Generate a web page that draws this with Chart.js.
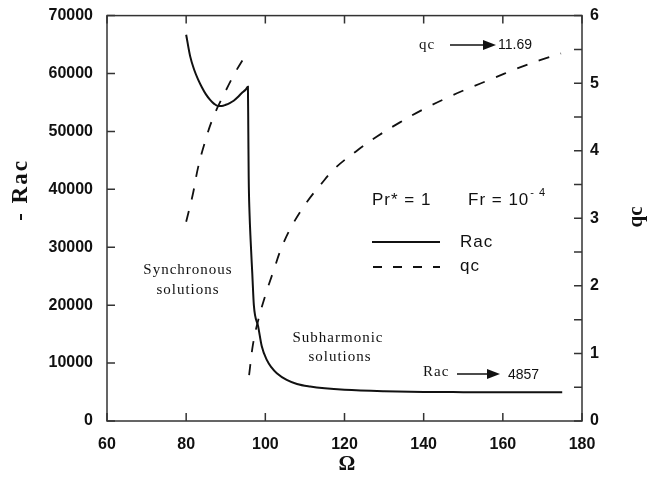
<!DOCTYPE html>
<html>
<head>
<meta charset="utf-8">
<script src="https://cdn.jsdelivr.net/npm/chart.js@4.4.1/dist/chart.umd.min.js"></script>
<style>
  html, body { margin: 0; padding: 0; background: #fff; }
  #wrap { width: 650px; height: 479px; }
</style>
</head>
<body>
<div id="wrap"><canvas id="myChart" width="650" height="479"></canvas></div>
<script>
// critical Rayleigh number (solid, left axis)
const racOmega = [80, 81, 82, 83, 84, 85, 86, 87, 88, 89, 90, 91, 92, 93, 94, 95, 95.6,
  95.7, 95.8, 96, 96.3, 96.7, 97.1, 98.2, 99.1, 100.4, 101.5, 102.9, 105.4, 108, 111.3,
  115, 120, 130, 140, 150, 160, 170, 175];
const racValues = [66700, 63000, 60700, 59000, 57600, 56400, 55500, 54800, 54400, 54400,
  54600, 54900, 55300, 55900, 56600, 57200, 57700,
  50000, 42000, 36000, 31000, 25500, 20000, 16300, 12900, 10500, 9300, 8260, 7100, 6400, 5960,
  5650, 5400, 5150, 5020, 4980, 4960, 4950, 4950];

// critical wavenumber (dashed, right axis) - synchronous branch
const qcOmega1 = [80, 81.7, 83, 84.7, 86.8, 89.6, 92.5, 95.4];
const qcValues1 = [2.95, 3.36, 3.75, 4.12, 4.49, 4.84, 5.17, 5.45];

// subharmonic branch
const qcOmega2 = [95.9, 96.9, 98.2, 100, 102, 104.2, 107, 110.5, 114, 117.6, 122.9, 128.2,
  134, 139.8, 145.4, 151.2, 157.5, 163.3, 169.4, 174.7];
const qcValues2 = [0.68, 1.14, 1.49, 1.86, 2.21, 2.58, 2.92, 3.24, 3.5, 3.74, 3.99, 4.21,
  4.42, 4.61, 4.77, 4.92, 5.07, 5.21, 5.34, 5.44];

const xTicks = [60, 80, 100, 120, 140, 160, 180];
const racTicks = [0, 10000, 20000, 30000, 40000, 50000, 60000, 70000];
const qcTicks = [0, 1, 2, 3, 4, 5, 6];
const qcMinorTicks = [0.5, 1.5, 2.5, 3.5, 4.5, 5.5];

const ink = '#111';
const tickFont = { family: 'Liberation Sans', size: 16, weight: 'bold' };

function pairs(xs, ys) {
  return xs.map((v, i) => ({ x: v, y: ys[i] }));
}

function arrow(ctx, x0, x1, y) {
  ctx.beginPath();
  ctx.moveTo(x0, y);
  ctx.lineTo(x1 - 12, y);
  ctx.lineWidth = 1.5;
  ctx.stroke();
  ctx.beginPath();
  ctx.moveTo(x1 - 13, y - 5);
  ctx.lineTo(x1, y);
  ctx.lineTo(x1 - 13, y + 5);
  ctx.closePath();
  ctx.fill();
}

const decorPlugin = {
  id: 'decor',
  afterDraw(chart) {
    const { ctx, chartArea: a, scales } = chart;
    const sx = scales.x, sy = scales.y, sq = scales.y1;
    ctx.save();
    ctx.strokeStyle = '#333';
    ctx.fillStyle = ink;
    ctx.lineWidth = 1.5;
    ctx.strokeRect(a.left, a.top, a.right - a.left, a.bottom - a.top);

    // inward tick marks
    ctx.beginPath();
    xTicks.forEach(v => {
      const px = sx.getPixelForValue(v);
      ctx.moveTo(px, a.bottom); ctx.lineTo(px, a.bottom - 8);
      ctx.moveTo(px, a.top); ctx.lineTo(px, a.top + 8);
    });
    racTicks.forEach(v => {
      const py = sy.getPixelForValue(v);
      ctx.moveTo(a.left, py); ctx.lineTo(a.left + 8, py);
    });
    qcTicks.concat(qcMinorTicks).forEach(v => {
      const py = sq.getPixelForValue(v);
      ctx.moveTo(a.right, py); ctx.lineTo(a.right - 8, py);
    });
    ctx.stroke();

    // axis titles
    ctx.textAlign = 'center';
    ctx.textBaseline = 'middle';
    ctx.font = 'bold 23px "Liberation Serif"';
    ctx.letterSpacing = '2px';
    ctx.save();
    ctx.translate(21, 190);
    ctx.rotate(-Math.PI / 2);
    ctx.fillText('- Rac', 0, 0);
    ctx.restore();
    ctx.letterSpacing = '0px';
    ctx.font = 'bold 21px "Liberation Serif"';
    ctx.save();
    ctx.translate(637, 217);
    ctx.rotate(-Math.PI / 2);
    ctx.fillText('qc', 0, 0);
    ctx.restore();
    ctx.font = 'bold 21px "Liberation Serif"';
    ctx.fillText('\u03A9', 347, 465);

    // region labels
    ctx.font = '15px "Liberation Serif"';
    ctx.letterSpacing = '1px';
    ctx.fillText('Synchronous', 188, 270);
    ctx.fillText('solutions', 188, 290);
    ctx.fillText('Subharmonic', 338, 338);
    ctx.fillText('solutions', 340, 357);

    // asymptote annotations
    ctx.textAlign = 'left';
    ctx.fillText('qc', 419, 45);
    ctx.fillText('Rac', 423, 372);
    ctx.letterSpacing = '0px';
    ctx.strokeStyle = ink;
    arrow(ctx, 450, 496, 45);
    arrow(ctx, 457, 500, 374);
    ctx.font = '14px "Liberation Sans"';
    ctx.fillText('11.69', 498, 45);
    ctx.fillText('4857', 508, 375);

    // parameters and legend
    ctx.font = '17px "Liberation Sans"';
    ctx.letterSpacing = '1px';
    ctx.fillText('Pr* = 1', 372, 200);
    ctx.fillText('Fr = 10', 468, 200);
    const w = ctx.measureText('Fr = 10').width;
    ctx.font = '11px "Liberation Sans"';
    ctx.fillText('- 4', 468 + w + 1, 193);
    ctx.font = '17px "Liberation Sans"';
    ctx.fillText('Rac', 460, 242);
    ctx.fillText('qc', 460, 266);
    ctx.lineWidth = 1.8;
    ctx.beginPath();
    ctx.moveTo(372, 242); ctx.lineTo(440, 242);
    ctx.stroke();
    ctx.setLineDash([9, 11]);
    ctx.beginPath();
    ctx.moveTo(373, 267); ctx.lineTo(440, 267);
    ctx.stroke();
    ctx.restore();
  }
};

const ctx = document.getElementById('myChart').getContext('2d');

const myChart = new Chart(ctx, {
  type: 'line',
  data: {
    datasets: [
      {
        label: 'Rac',
        data: pairs(racOmega, racValues),
        yAxisID: 'y',
        borderColor: ink,
        borderWidth: 2,
        pointRadius: 0,
        cubicInterpolationMode: 'monotone'
      },
      {
        label: 'qc',
        data: pairs(qcOmega1, qcValues1),
        yAxisID: 'y1',
        borderColor: ink,
        borderWidth: 1.8,
        borderDash: [11, 12],
        pointRadius: 0,
        tension: 0.4
      },
      {
        label: 'qc subharmonic',
        data: pairs(qcOmega2, qcValues2),
        yAxisID: 'y1',
        borderColor: ink,
        borderWidth: 1.8,
        borderDash: [11, 12],
        pointRadius: 0,
        tension: 0.4
      }
    ]
  },
  options: {
    responsive: false,
    animation: false,
    layout: { padding: { top: 14, left: 0, right: 0, bottom: 0 } },
    plugins: {
      legend: { display: false },
      tooltip: { enabled: false }
    },
    scales: {
      x: {
        type: 'linear',
        position: 'bottom',
        min: 60,
        max: 180,
        afterBuildTicks: s => { s.ticks = xTicks.map(v => ({ value: v })); },
        afterFit: s => { s.height = 58; },
        grid: { display: false },
        border: { display: false },
        ticks: { font: tickFont, color: ink, padding: 6, maxRotation: 0 }
      },
      y: {
        type: 'linear',
        position: 'left',
        min: 0,
        max: 70000,
        afterBuildTicks: s => { s.ticks = racTicks.map(v => ({ value: v })); },
        afterFit: s => { s.width = 107; },
        grid: { display: false },
        border: { display: false },
        ticks: { font: tickFont, color: ink, padding: 6, callback: v => String(v) }
      },
      y1: {
        type: 'linear',
        position: 'right',
        min: 0,
        max: 6,
        afterBuildTicks: s => { s.ticks = qcTicks.map(v => ({ value: v })); },
        afterFit: s => { s.width = 68; },
        grid: { display: false },
        border: { display: false },
        ticks: { font: tickFont, color: ink, padding: 0, callback: v => String(v) }
      }
    }
  },
  plugins: [decorPlugin]
});
</script>
</body>
</html>
